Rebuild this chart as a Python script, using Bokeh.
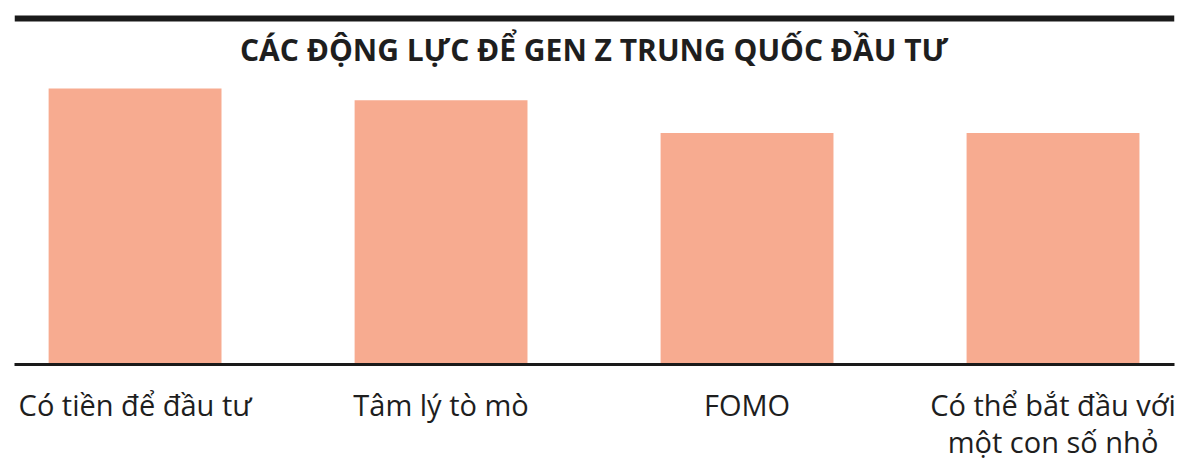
from bokeh.plotting import figure
from bokeh.models import Range1d, FixedTicker, Span, Label
from bokeh.embed import file_html
from bokeh.resources import INLINE

title_text = "CÁC ĐỘNG LỰC ĐỂ GEN Z TRUNG QUỐC ĐẦU TƯ"
categories = ["Có tiền để đầu tư", "Tâm lý tò mò", "FOMO", "Có thể bắt đầu với\nmột con số nhỏ"]
values = [47, 45, 39.4, 39.4]
positions = [0, 1, 2, 3]

BAR_COLOR = "#F7AB90"
TEXT_COLOR = "#1e1e1e"

p = figure(width=1184, height=466, output_backend="svg", toolbar_location=None,
           x_range=Range1d(-0.394, 3.397), y_range=Range1d(0, 60.6),
           min_border_left=14, min_border_right=10, min_border_top=8, min_border_bottom=102)
p.title.visible = False
p.outline_line_color = None
p.background_fill_color = "white"
p.border_fill_color = "white"
p.xgrid.visible = False
p.ygrid.visible = False
p.yaxis.visible = False

p.vbar(x=positions, top=values, width=0.565, bottom=0, color=BAR_COLOR, line_color=None)

ax = p.xaxis[0]
ax.ticker = FixedTicker(ticks=positions)
ax.major_label_overrides = {i: c for i, c in zip(positions, categories)}
ax.axis_line_width = 3
ax.axis_line_color = "#1a1a1a"
ax.major_tick_line_color = None
ax.minor_tick_line_color = None
ax.major_tick_out = 0
ax.major_tick_in = 0
ax.major_label_standoff = 20
ax.major_label_text_font = "Open Sans"
ax.major_label_text_font_size = "29px"
ax.major_label_text_line_height = 0.96
ax.major_label_text_color = TEXT_COLOR

top_rule = Span(location=58.9, dimension="width", line_color="#1a1a1a", line_width=6)
p.add_layout(top_rule)

t = Label(x=1.5, y=53.6, text=title_text, text_align="center", text_baseline="middle",
          text_font="Open Sans", text_font_style="bold", text_font_size="30px",
          text_color=TEXT_COLOR)
p.add_layout(t)

open("out.html", "w").write(file_html(p, INLINE))
